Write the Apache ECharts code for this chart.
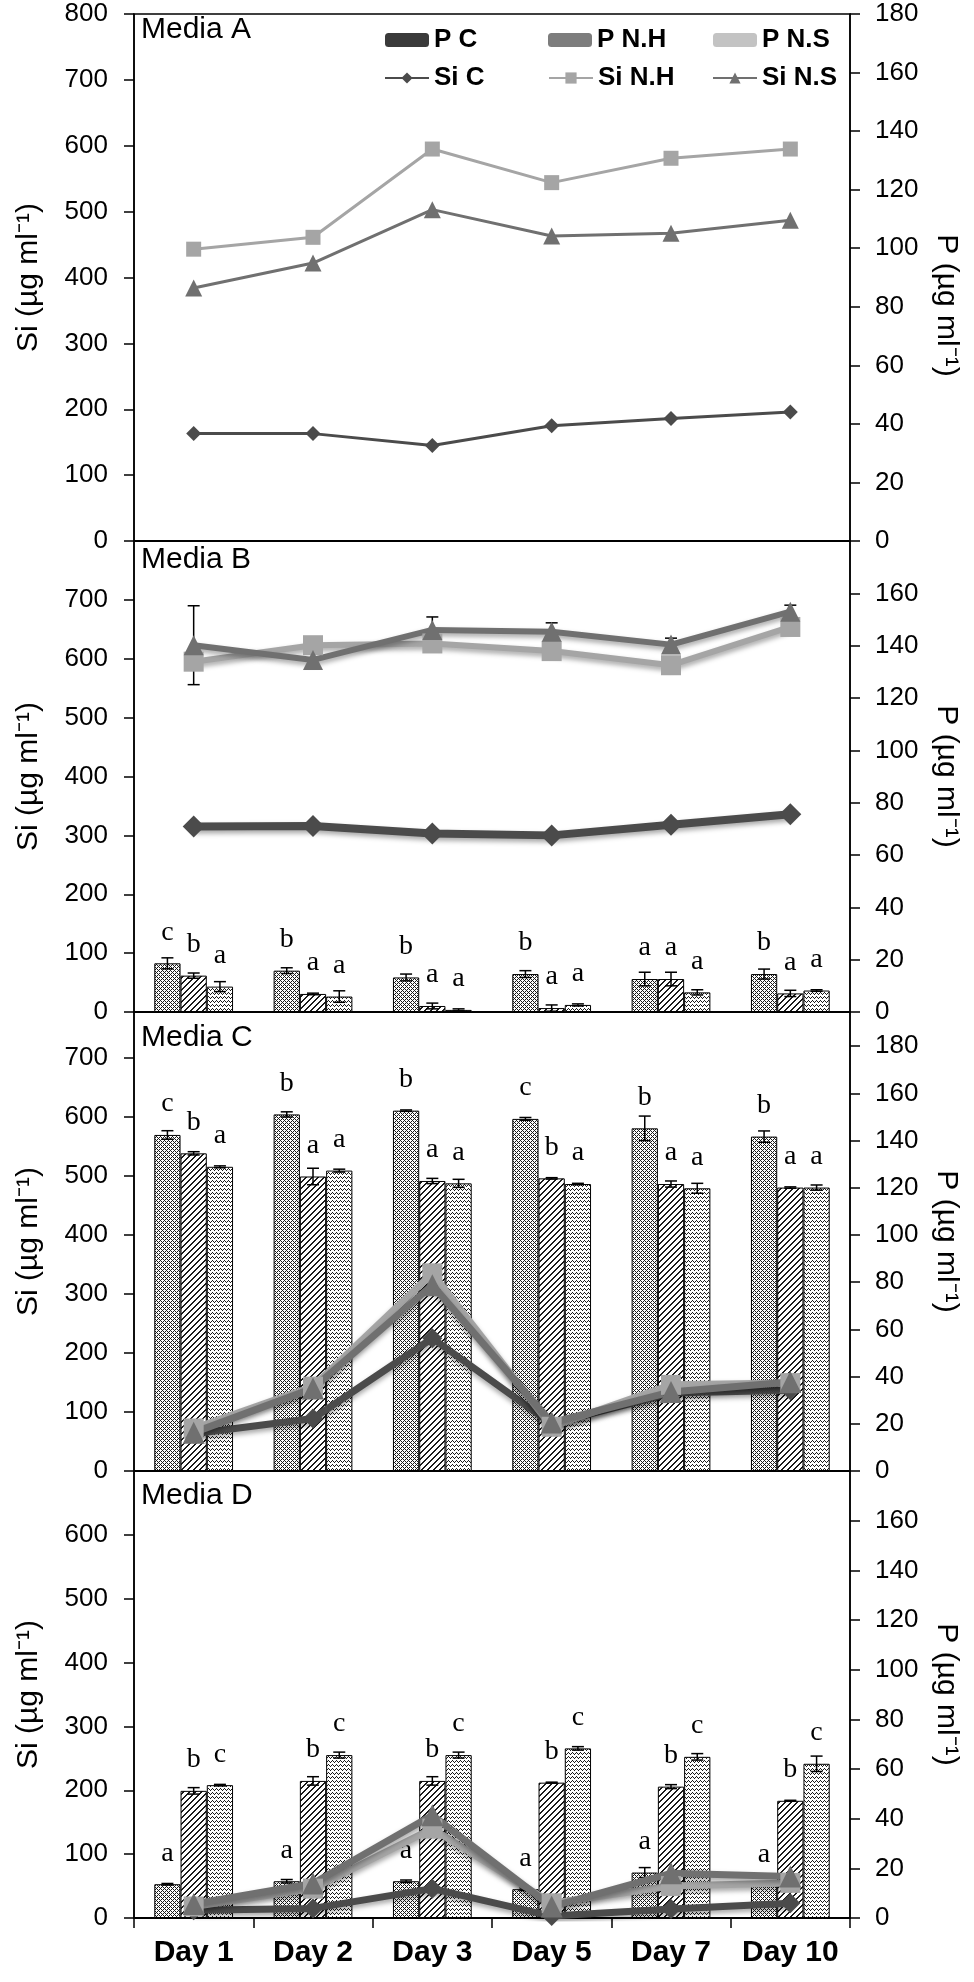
<!DOCTYPE html>
<html><head><meta charset="utf-8">
<script src="https://cdn.jsdelivr.net/npm/echarts@6/dist/echarts.min.js"></script>
<style>html,body{margin:0;padding:0;background:#fff}#c{width:974px;height:1982px}</style>
</head><body><div id="c"></div>
<script>
const days = ['Day 1','Day 2','Day 3','Day 5','Day 7','Day 10'];
const panelNames = ['Media A','Media B','Media C','Media D'];

// Media A (Si, left axis)
const A_SiC  = [163,163,145,175,186,196];
const A_SiNH = [443,461,595,544,581,595];
const A_SiNS = [384,422,503,463,467,487];

// Media B
const B_SiC  = [315,316,303,300,318,336];
const B_SiNH = [595,623,626,613,589,654];
const B_SiNS = [623,598,649,646,624,680];
const B_SiNS_err = [67,0,22,15,11,11];
const B_PC  = [18.6,15.8,13.2,14.5,12.6,14.5];
const B_PC_err  = [2.1,1.1,1.3,1.3,2.6,1.9];
const B_PNH = [13.9,6.9,2.3,1.5,12.6,7.1];
const B_PNH_err = [1.0,0.3,1.1,1.2,2.6,1.2];
const B_PNS = [9.7,5.9,0.8,2.7,7.5,8.2];
const B_PNS_err = [1.9,2.2,0.4,0.4,1.0,0.3];
const B_PC_sig  = ['c','b','b','b','a','b'];
const B_PNH_sig = ['b','a','a','a','a','a'];
const B_PNS_sig = ['a','a','a','a','a','a'];

// Media C
const C_SiC  = [63,89,225,80,132,137];
const C_SiNH = [72,143,335,75,146,149];
const C_SiNS = [65,140,315,82,134,151];
const C_PC  = [142.4,151.1,152.7,149.2,145.2,141.7];
const C_PC_err  = [1.8,1.1,0.3,0.6,5.2,2.4];
const C_PNH = [134.6,124.8,122.9,124.0,121.6,120.1];
const C_PNH_err = [0.7,3.5,1.1,0.3,1.3,0.3];
const C_PNS = [128.9,127.3,121.9,121.6,119.8,120.1];
const C_PNS_err = [0.4,0.6,1.7,0.3,2.1,1.1];
const C_PC_sig  = ['c','b','b','c','b','b'];
const C_PNH_sig = ['b','a','a','b','a','a'];
const C_PNS_sig = ['a','a','a','a','a','a'];

// Media D
const D_SiC  = [12,15,46,3,14,23];
const D_SiNH = [18,46,140,23,50,55];
const D_SiNS = [22,54,161,18,70,65];
const D_PC  = [13.6,14.8,14.8,11.6,18.3,13.2];
const D_PC_err  = [0.3,0.7,0.5,0.5,2.0,0.3];
const D_PNH = [51.2,55.2,55.2,54.5,52.9,47.2];
const D_PNH_err = [1.3,1.7,1.7,0.2,0.8,0.2];
const D_PNS = [53.5,65.6,65.6,68.3,64.9,62.1];
const D_PNS_err = [0.3,1.2,1.2,0.7,1.3,3.1];
const D_PC_sig  = ['a','a','a','a','a','a'];
const D_PNH_sig = ['b','b','b','b','b','b'];
const D_PNS_sig = ['c','c','c','c','c','c'];

// ---------- styling ----------
const FONT = 'Liberation Sans, Arial, sans-serif';
const SERIF = 'Liberation Serif, Times New Roman, serif';
const COL = {SiC:'#4b4b4b', SiNH:'#a5a5a5', SiNS:'#707070'};

function makePattern(w, h, draw) {
  const c = document.createElement('canvas');
  c.width = w; c.height = h;
  const g = c.getContext('2d');
  g.fillStyle = '#fff'; g.fillRect(0, 0, w, h);
  g.fillStyle = '#1a1a1a';
  draw(g);
  return {image: c, repeat: 'repeat'};
}
const patPC = makePattern(4, 4, g => {
  for (let x = 0; x < 4; x++) for (let y = 0; y < 4; y++)
    if ((x + y) % 4 === 0 || (x - y + 4) % 4 === 0) g.fillRect(x, y, 1, 1);
});
const patNH = makePattern(6, 6, g => {
  for (let x = 0; x < 6; x++) for (let y = 0; y < 6; y++)
    if ((x + y) % 6 < 2) g.fillRect(x, y, 1, 1);
});
const patNS = makePattern(4, 4, g => {
  [[0,0],[1,1],[2,2],[3,1]].forEach(p => g.fillRect(p[0], p[1], 1, 1));
});

const grids = [
  {top:14, height:527}, {top:541, height:471}, {top:1012, height:459}, {top:1471, height:447}
];
const leftMax = [800, 800, 778, 700];
const rightMax = [180, 180, 194.5, 180];

function errRender(params, api) {
  const ci = api.value(0), v = api.value(1), e = api.value(2), k = api.value(3);
  if (!e) return null;
  const bw = api.size([1, 0])[0] * 0.22;
  const x = api.coord([ci, v])[0] + (k - 1) * bw;
  const y1 = api.coord([ci, v + e])[1], y2 = api.coord([ci, Math.max(0, v - e)])[1];
  const cap = 6, st = {stroke:'#000', lineWidth:1.5};
  return {type:'group', children:[
    {type:'line', shape:{x1:x, y1:y1, x2:x, y2:y2}, style:st},
    {type:'line', shape:{x1:x-cap, y1:y1, x2:x+cap, y2:y1}, style:st},
    {type:'line', shape:{x1:x-cap, y1:y2, x2:x+cap, y2:y2}, style:st}
  ]};
}

function barSeries(name, gi, vals, errs, sig, k, pattern) {
  return [{
    type:'bar', name:name, xAxisIndex:gi, yAxisIndex:2*gi+1, data:vals,
    barWidth:'22%', barGap:'0%', z:2,
    itemStyle:{color:pattern, borderColor:'#000', borderWidth:1},
    label:{show:true, position:'top', distance:17, formatter:p => sig[p.dataIndex],
      fontFamily:SERIF, fontSize:28, color:'#000'},
    emphasis:{disabled:true}
  }, {
    type:'custom', name:name + ' err', xAxisIndex:gi, yAxisIndex:2*gi+1, z:3, silent:true,
    data:vals.map((v, i) => [i, v, errs[i], k]), renderItem:errRender
  }];
}

function lineSeries(name, gi, vals, key, symbol, size, width, shadow) {
  return {
    type:'line', name:name, xAxisIndex:gi, yAxisIndex:2*gi, data:vals, z:4,
    symbol:symbol, symbolSize:size, showAllSymbol:true,
    lineStyle:{color:COL[key], width:width,
      shadowColor: shadow ? 'rgba(0,0,0,0.35)' : 'transparent', shadowBlur: shadow ? 5 : 0, shadowOffsetY: shadow ? 3 : 0},
    itemStyle:{color:COL[key]},
    emphasis:{disabled:true}
  };
}

function lineErr(gi, vals, errs) {
  return {type:'custom', name:'Si err', xAxisIndex:gi, yAxisIndex:2*gi, z:3, silent:true,
    data:vals.map((v, i) => [i, v, errs[i], 1]), renderItem:errRender};
}

const axisLabelStyle = {fontFamily:FONT, fontSize:26, color:'#000'};
const blackLine = {color:'#000', width:1.5};

const xAxis = grids.map((g, gi) => ({
  type:'category', gridIndex:gi, data:days, boundaryGap:true,
  axisLine:{show:true, onZero:false, lineStyle:{color:'#000', width:2}},
  axisTick:{show:gi === 3, length:10, interval:0, lineStyle:blackLine},
  axisLabel:{show:gi === 3, interval:0, margin:20, fontFamily:FONT, fontSize:30, fontWeight:'bold', color:'#000'},
  splitLine:{show:false}
}));

const yAxis = [];
grids.forEach((g, gi) => {
  const showTop = gi === 0;
  const common = {type:'value', gridIndex:gi, min:0, splitLine:{show:false},
    axisLine:{show:true, lineStyle:blackLine},
    axisTick:{show:true, length:10, inside:false, lineStyle:blackLine},
    nameLocation:'middle'};
  const nameStyle = {fontFamily:FONT, fontSize:30, color:'#000'};
  yAxis.push(Object.assign({}, common, {position:'left', max:leftMax[gi], interval:100,
    name:'Si (µg ml\u207B\u00B9)', nameGap:90, nameRotate:90, nameTextStyle:nameStyle,
    axisLabel:Object.assign({margin:26, showMaxLabel:showTop, showMinLabel:true}, axisLabelStyle)}));
  yAxis.push(Object.assign({}, common, {position:'right', max:rightMax[gi], interval:20,
    name:'P (µg ml\u207B\u00B9)', nameGap:81, nameRotate:-90,
    nameTextStyle:Object.assign({}, nameStyle, gi === 0 ? {padding:[0,0,0,56]} : {}),
    axisLabel:Object.assign({margin:25, showMaxLabel:showTop, showMinLabel:true}, axisLabelStyle)}));
});

const series = [
  lineSeries('Si C', 0, A_SiC, 'SiC', 'diamond', 15, 3, false),
  lineSeries('Si N.H', 0, A_SiNH, 'SiNH', 'rect', 15, 3, false),
  lineSeries('Si N.S', 0, A_SiNS, 'SiNS', 'triangle', 17, 3, false),

  ...barSeries('P C', 1, B_PC, B_PC_err, B_PC_sig, 0, patPC),
  ...barSeries('P N.H', 1, B_PNH, B_PNH_err, B_PNH_sig, 1, patNH),
  ...barSeries('P N.S', 1, B_PNS, B_PNS_err, B_PNS_sig, 2, patNS),
  lineErr(1, B_SiNS, B_SiNS_err),
  lineSeries('Si C', 1, B_SiC, 'SiC', 'diamond', 22, 8, true),
  lineSeries('Si N.H', 1, B_SiNH, 'SiNH', 'rect', 20, 6, true),
  lineSeries('Si N.S', 1, B_SiNS, 'SiNS', 'triangle', 20, 6, true),

  ...barSeries('P C', 2, C_PC, C_PC_err, C_PC_sig, 0, patPC),
  ...barSeries('P N.H', 2, C_PNH, C_PNH_err, C_PNH_sig, 1, patNH),
  ...barSeries('P N.S', 2, C_PNS, C_PNS_err, C_PNS_sig, 2, patNS),
  lineSeries('Si C', 2, C_SiC, 'SiC', 'diamond', 20, 7, true),
  lineSeries('Si N.H', 2, C_SiNH, 'SiNH', 'rect', 20, 7, true),
  lineSeries('Si N.S', 2, C_SiNS, 'SiNS', 'triangle', 22, 7, true),

  ...barSeries('P C', 3, D_PC, D_PC_err, D_PC_sig, 0, patPC),
  ...barSeries('P N.H', 3, D_PNH, D_PNH_err, D_PNH_sig, 1, patNH),
  ...barSeries('P N.S', 3, D_PNS, D_PNS_err, D_PNS_sig, 2, patNS),
  lineSeries('Si C', 3, D_SiC, 'SiC', 'diamond', 20, 7, true),
  lineSeries('Si N.H', 3, D_SiNH, 'SiNH', 'rect', 20, 7, true),
  lineSeries('Si N.S', 3, D_SiNS, 'SiNS', 'triangle', 22, 7, true)
];

const legendBase = {orient:'horizontal', padding:0, itemWidth:44, itemHeight:14, itemGap:0,
  selectedMode:false, z:10,
  textStyle:{fontFamily:FONT, fontWeight:'bold', fontSize:26, color:'#000'}};
const legendItems = [
  {left:385, top:27, data:[{name:'P C', itemStyle:{color:'#3a3a3a', borderWidth:0}}]},
  {left:548, top:27, data:[{name:'P N.H', itemStyle:{color:'#7d7d7d', borderWidth:0}}]},
  {left:713, top:27, data:[{name:'P N.S', itemStyle:{color:'#c3c3c3', borderWidth:0}}]},
  {left:384, top:65, data:['Si C']},
  {left:548, top:65, data:['Si N.H']},
  {left:712, top:65, data:['Si N.S']}
];
const legend = legendItems.map(l => Object.assign({}, legendBase, l));

const titleTops = [15, 545, 1023, 1481];
const title = panelNames.map((t, i) => ({text:t, left:141, top:titleTops[i], padding:0,
  textStyle:{fontFamily:FONT, fontSize:30, fontWeight:'normal', color:'#000'}}));

const chart = echarts.init(document.getElementById('c'), null, {renderer:'canvas'});
chart.setOption({
  animation:false,
  backgroundColor:'#fff',
  title: title,
  legend: legend,
  grid: grids.map(g => ({left:134, right:124, top:g.top, height:g.height, show:true,
    borderColor:'#000', borderWidth:1.5, backgroundColor:'transparent', containLabel:false, outerBoundsMode:'none'})),
  xAxis: xAxis,
  yAxis: yAxis,
  series: series
});
</script></body></html>
